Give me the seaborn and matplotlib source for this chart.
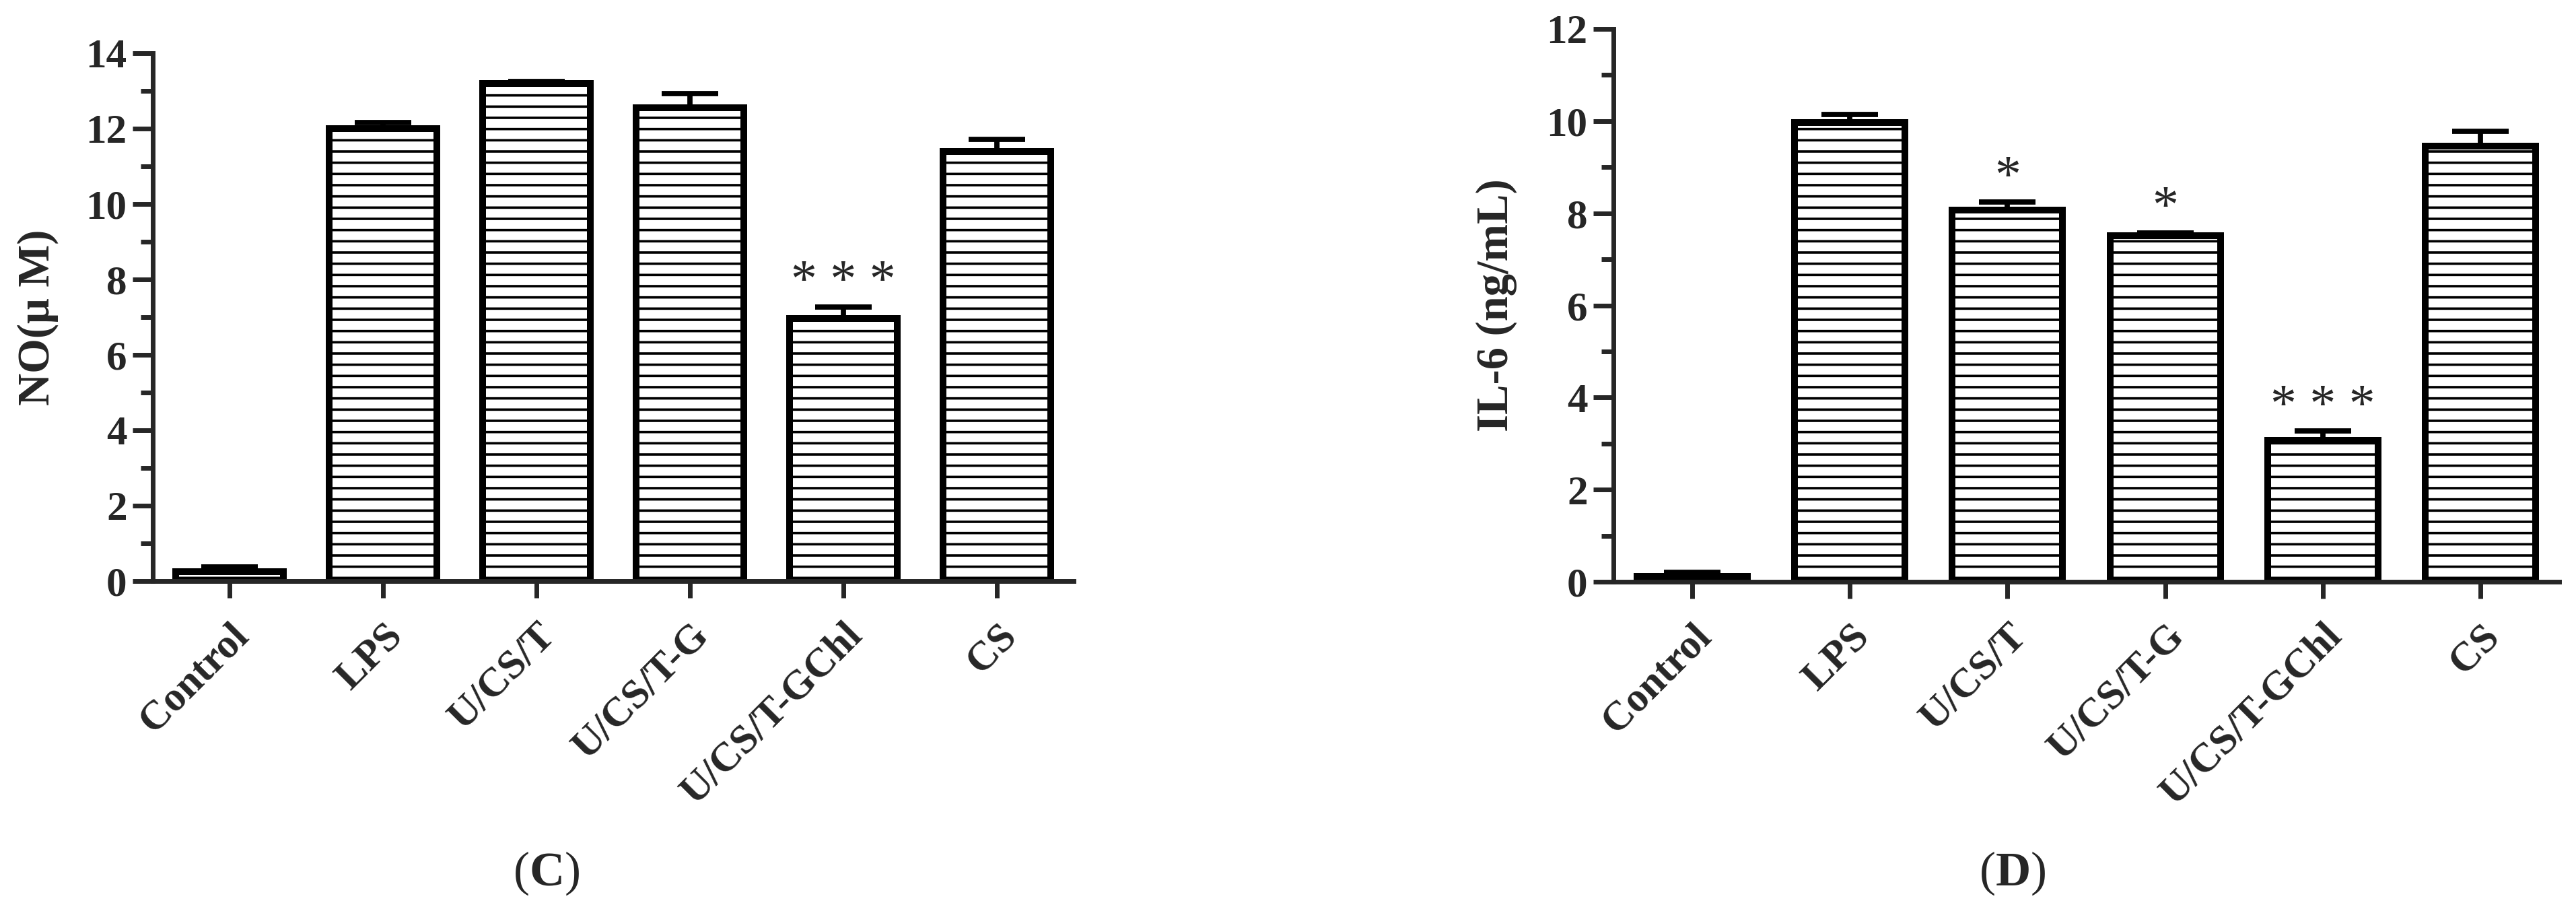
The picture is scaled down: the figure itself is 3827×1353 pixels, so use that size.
import numpy as np
import pandas as pd
import seaborn as sns
import matplotlib.pyplot as plt
from matplotlib.ticker import MultipleLocator

groups = ['Control', 'LPS', 'U/CS/T', 'U/CS/T-G', 'U/CS/T-GChl', 'CS']

# panel C: NO
no_mean = [0.25, 12.0, 13.2, 12.55, 6.97, 11.4]
no_err = [0.12, 0.16, 0.05, 0.38, 0.3, 0.32]
no_marks = ['', '', '', '', '* * *', '']

# panel D: IL-6
il6_mean = [0.12, 9.97, 8.07, 7.52, 3.07, 9.46]
il6_err = [0.08, 0.18, 0.17, 0.05, 0.2, 0.32]
il6_marks = ['', '', '*', '*', '* * *', '']

sns.set_style('ticks')
plt.rcParams['font.family'] = ['Liberation Serif', 'DejaVu Serif']
plt.rcParams['hatch.linewidth'] = 1.3
plt.rcParams['hatch.color'] = 'black'
plt.rcParams['mathtext.fontset'] = 'custom'
plt.rcParams['mathtext.rm'] = 'Liberation Serif'
plt.rcParams['mathtext.bf'] = 'Liberation Serif:bold'

W, H = 3827, 1353
fig = plt.figure(figsize=(W / 200, H / 200), dpi=200)
ax1 = fig.add_axes([227 / W, 1 - 863 / H, 1368 / W, 784 / H])
ax2 = fig.add_axes([2397 / W, 1 - 864 / H, 1405 / W, 821 / H])


def panel(ax, means, errs, marks, ylabel, ymax):
    df = pd.DataFrame({'group': groups, 'value': means})
    sns.barplot(data=df, x='group', y='value', ax=ax, color='white',
                saturation=1, edgecolor='black', linewidth=3.6, width=0.7,
                hatch='--', errorbar=None, zorder=2)
    x = np.arange(len(groups))
    ax.errorbar(x, means, yerr=[np.zeros(len(errs)), errs], fmt='none',
                ecolor='black', elinewidth=2.8, capsize=15, capthick=2.8,
                zorder=3)
    for i, (m, e, s) in enumerate(zip(means, errs, marks)):
        if s:
            ax.annotate(s, xy=(i, m + e), xytext=(0, 6),
                        textcoords='offset points', ha='center',
                        va='baseline', fontsize=28)
    ax.set_xlim(-0.5, 5.5)
    ax.set_ylim(0, ymax)
    ax.yaxis.set_major_locator(MultipleLocator(2))
    ax.yaxis.set_minor_locator(MultipleLocator(1))
    sns.despine(ax=ax)
    for sp in ['left', 'bottom']:
        ax.spines[sp].set_linewidth(2.5)
    ax.tick_params(axis='y', which='major', direction='out', length=10.8,
                   width=2.5, labelsize=22, pad=3)
    ax.tick_params(axis='y', which='minor', direction='out', length=6.5,
                   width=2.5)
    ax.tick_params(axis='x', direction='out', length=9, width=2.5,
                   labelsize=22, pad=10)
    for lab in ax.get_yticklabels():
        lab.set_fontweight('bold')
    plt.setp(ax.get_xticklabels(), rotation=45, ha='right', va='top',
             rotation_mode='anchor', fontweight='bold')
    ax.set_xlabel('')
    ax.set_ylabel(ylabel, fontsize=24, fontweight='bold')
    ax.yaxis.set_label_coords(-0.102, 0.5)


panel(ax1, no_mean, no_err, no_marks, 'NO(μ M)', 14)
panel(ax2, il6_mean, il6_err, il6_marks, 'IL-6 (ng/mL)', 12)

fig.text(812 / W, 1 - 1297 / H, r'($\mathbf{C}$)', ha='center', va='center',
         fontsize=26)
fig.text(2990 / W, 1 - 1297 / H, r'($\mathbf{D}$)', ha='center', va='center',
         fontsize=26)

fig.savefig('out.png', dpi=200, facecolor='white')
